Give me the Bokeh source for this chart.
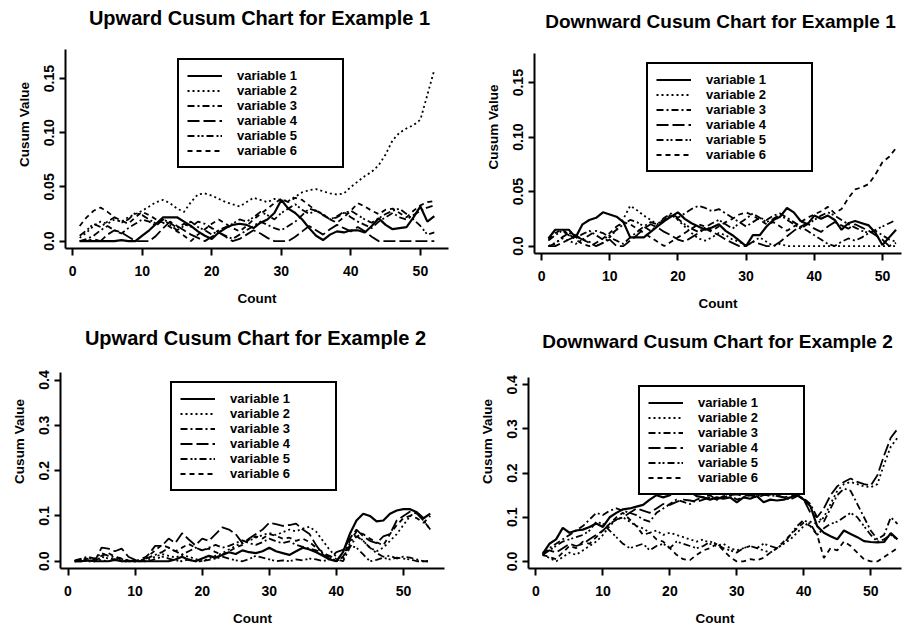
from bokeh.plotting import figure
from bokeh.layouts import column, row
from bokeh.models import Legend, LegendItem, Range1d, FixedTicker, Label
from bokeh.embed import file_html
from bokeh.resources import INLINE

# ---------------- data ----------------
COUNT_EX1 = list(range(1, 53))
COUNT_EX2 = list(range(1, 55))
SERIES_NAMES = ["variable 1", "variable 2", "variable 3", "variable 4", "variable 5", "variable 6"]

X_TICKS = [0, 10, 20, 30, 40, 50]
Y_TICKS_EX1 = [0, 0.05, 0.10, 0.15]
Y_LABELS_EX1 = ["0.0", "0.05", "0.10", "0.15"]
Y_TICKS_EX2 = [0, 0.1, 0.2, 0.3, 0.4]
Y_LABELS_EX2 = ["0.0", "0.1", "0.2", "0.3", "0.4"]

# Upward cusum, example 1
UP1_V1 = [0.0, 0.0, 0.0, 0.0, 0.0, 0.0, 0.001, 0.0, 0.0, 0.005,
          0.01, 0.016, 0.022, 0.022, 0.022, 0.018, 0.014, 0.009, 0.005, 0.002,
          0.008, 0.012, 0.015, 0.016, 0.015, 0.012, 0.017, 0.02, 0.026, 0.038,
          0.03, 0.026, 0.02, 0.012, 0.005, 0.001, 0.006, 0.009, 0.008, 0.01,
          0.01, 0.008, 0.014, 0.021, 0.015, 0.011, 0.012, 0.013, 0.022, 0.032,
          0.018, 0.023]
UP1_V2 = [0.003, 0.008, 0.014, 0.018, 0.016, 0.02, 0.018, 0.022, 0.025, 0.028,
          0.032, 0.036, 0.038, 0.035, 0.03, 0.027, 0.036, 0.043, 0.044, 0.042,
          0.039, 0.036, 0.034, 0.032, 0.036, 0.04, 0.038, 0.036, 0.039, 0.038,
          0.037, 0.041, 0.045, 0.047, 0.048, 0.046, 0.044, 0.043, 0.044, 0.05,
          0.055, 0.06, 0.064, 0.07, 0.08, 0.093, 0.1, 0.104, 0.107, 0.112,
          0.135, 0.158]
UP1_V3 = [0.0, 0.002, 0.005, 0.01, 0.014, 0.01, 0.007, 0.012, 0.016, 0.02,
          0.018, 0.014, 0.02, 0.017, 0.012, 0.016, 0.013, 0.018, 0.016, 0.012,
          0.008, 0.005, 0.002, 0.006, 0.01, 0.014, 0.018, 0.015, 0.012, 0.01,
          0.014, 0.018, 0.024, 0.03, 0.028, 0.025, 0.02, 0.023, 0.027, 0.022,
          0.018, 0.015, 0.012, 0.018, 0.022, 0.026, 0.022, 0.02, 0.024, 0.028,
          0.031, 0.033]
UP1_V4 = [0.0, 0.0, 0.002, 0.0, 0.006, 0.01, 0.008, 0.004, 0.0, 0.0,
          0.0, 0.005, 0.012, 0.018, 0.014, 0.01, 0.006, 0.003, 0.0, 0.004,
          0.008, 0.004, 0.0, 0.002, 0.006, 0.01, 0.007, 0.003, 0.0, 0.0,
          0.0, 0.004, 0.009, 0.014, 0.01, 0.006, 0.011, 0.015, 0.012, 0.009,
          0.013, 0.009, 0.004, 0.0, 0.0, 0.0, 0.0, 0.0, 0.0, 0.0,
          0.0, 0.0]
UP1_V5 = [0.005, 0.01, 0.016, 0.013, 0.018, 0.022, 0.017, 0.02, 0.026, 0.024,
          0.02, 0.016, 0.02, 0.015, 0.01, 0.014, 0.018, 0.013, 0.01, 0.006,
          0.01, 0.013, 0.016, 0.02, 0.018, 0.022, 0.027, 0.024, 0.02, 0.026,
          0.03, 0.034, 0.029, 0.025, 0.029, 0.024, 0.02, 0.022, 0.026, 0.028,
          0.024, 0.02, 0.017, 0.021, 0.025, 0.028, 0.03, 0.025, 0.02, 0.014,
          0.006, 0.008]
UP1_V6 = [0.014, 0.022, 0.028, 0.031, 0.027, 0.022, 0.019, 0.016, 0.022, 0.027,
          0.024, 0.02, 0.017, 0.013, 0.009, 0.005, 0.0, 0.006, 0.011, 0.016,
          0.02, 0.016, 0.012, 0.009, 0.014, 0.02, 0.025, 0.03, 0.035, 0.039,
          0.036, 0.04, 0.038, 0.033, 0.028, 0.024, 0.02, 0.017, 0.022, 0.028,
          0.035, 0.032, 0.028, 0.025, 0.029, 0.03, 0.026, 0.022, 0.028, 0.033,
          0.036, 0.037]

# Downward cusum, example 1
DN1_V1 = [0.007, 0.015, 0.015, 0.015, 0.008, 0.02, 0.024, 0.026, 0.031, 0.029,
          0.027, 0.022, 0.008, 0.008, 0.008, 0.013, 0.018, 0.023, 0.027, 0.031,
          0.025, 0.021, 0.018, 0.015, 0.017, 0.02, 0.014, 0.01, 0.005, 0.0,
          0.01, 0.01, 0.018, 0.024, 0.027, 0.035, 0.031, 0.023, 0.02, 0.028,
          0.025, 0.028, 0.024, 0.015, 0.021, 0.023, 0.021, 0.019, 0.012, 0.001,
          0.008, 0.015]
DN1_V2 = [0.0, 0.003, 0.007, 0.005, 0.002, 0.006, 0.004, 0.0, 0.003, 0.008,
          0.015, 0.025, 0.037, 0.033, 0.028, 0.024, 0.02, 0.025, 0.029, 0.024,
          0.018, 0.012, 0.007, 0.005, 0.008, 0.012, 0.01, 0.006, 0.004, 0.0,
          0.004, 0.008, 0.004, 0.0, 0.002, 0.0, 0.0, 0.0, 0.0, 0.0,
          0.0, 0.0, 0.0, 0.0, 0.0, 0.0, 0.0, 0.0, 0.0, 0.0,
          0.0, 0.0]
DN1_V3 = [0.0, 0.002, 0.008, 0.012, 0.01, 0.006, 0.01, 0.014, 0.012, 0.008,
          0.005, 0.002, 0.008, 0.013, 0.018, 0.022, 0.02, 0.026, 0.03, 0.026,
          0.03, 0.034, 0.037, 0.035, 0.032, 0.034, 0.03, 0.026, 0.022, 0.018,
          0.022, 0.026, 0.024, 0.028, 0.03, 0.026, 0.022, 0.018, 0.014, 0.01,
          0.006, 0.002, 0.0, 0.004, 0.007, 0.005, 0.008, 0.012, 0.014, 0.01,
          0.006, 0.004]
DN1_V4 = [0.0, 0.0, 0.003, 0.006, 0.009, 0.006, 0.003, 0.0, 0.003, 0.006,
          0.0, 0.0, 0.005, 0.01, 0.016, 0.02, 0.017, 0.013, 0.01, 0.006,
          0.004, 0.008, 0.012, 0.016, 0.013, 0.01, 0.006, 0.003, 0.0, 0.0,
          0.004, 0.002, 0.0, 0.0, 0.004, 0.009, 0.014, 0.018, 0.021, 0.016,
          0.013, 0.018, 0.022, 0.019, 0.016, 0.02, 0.017, 0.014, 0.01, 0.006,
          0.0, 0.003]
DN1_V5 = [0.005, 0.01, 0.014, 0.01, 0.007, 0.011, 0.014, 0.01, 0.006, 0.01,
          0.015, 0.02, 0.024, 0.022, 0.018, 0.014, 0.019, 0.024, 0.028, 0.025,
          0.02, 0.016, 0.013, 0.017, 0.021, 0.024, 0.02, 0.016, 0.021, 0.025,
          0.03, 0.026, 0.022, 0.025, 0.029, 0.024, 0.02, 0.016, 0.02, 0.024,
          0.028, 0.031, 0.028, 0.024, 0.02, 0.017, 0.014, 0.012, 0.015, 0.018,
          0.021, 0.024]
DN1_V6 = [0.006, 0.012, 0.015, 0.011, 0.006, 0.002, 0.0, 0.003, 0.007, 0.012,
          0.018, 0.022, 0.02, 0.016, 0.012, 0.008, 0.004, 0.0, 0.004, 0.008,
          0.012, 0.016, 0.02, 0.018, 0.014, 0.018, 0.022, 0.025, 0.029, 0.031,
          0.028, 0.024, 0.02, 0.022, 0.018, 0.014, 0.018, 0.022, 0.026, 0.029,
          0.032, 0.036, 0.03, 0.034, 0.044, 0.052, 0.054, 0.057, 0.066, 0.077,
          0.082, 0.09]

# Upward cusum, example 2
UP2_V1 = [0.0, 0.0, 0.002, 0.0, 0.0, 0.0, 0.003, 0.0, 0.0, 0.0,
          0.0, 0.0, 0.0, 0.0, 0.0, 0.004, 0.01, 0.003, 0.0, 0.006,
          0.012, 0.008, 0.014, 0.02, 0.016, 0.024, 0.02, 0.018, 0.022, 0.03,
          0.022, 0.018, 0.014, 0.022, 0.03, 0.026, 0.02, 0.012, 0.004, 0.0,
          0.02, 0.06, 0.09, 0.105, 0.1, 0.088, 0.09, 0.105, 0.112, 0.115,
          0.115, 0.108, 0.095, 0.105]
UP2_V2 = [0.0, 0.004, 0.008, 0.005, 0.002, 0.0, 0.004, 0.002, 0.0, 0.0,
          0.0, 0.004, 0.01, 0.016, 0.012, 0.008, 0.014, 0.01, 0.005, 0.0,
          0.006, 0.012, 0.018, 0.026, 0.034, 0.04, 0.046, 0.052, 0.058, 0.062,
          0.058, 0.064, 0.07, 0.066, 0.072, 0.076, 0.065, 0.045, 0.025, 0.01,
          0.005, 0.04, 0.06, 0.045, 0.03, 0.022, 0.03, 0.045, 0.06, 0.08,
          0.1, 0.11, 0.09, 0.07]
UP2_V3 = [0.002, 0.006, 0.01, 0.006, 0.018, 0.012, 0.008, 0.005, 0.002, 0.0,
          0.003, 0.008, 0.014, 0.02, 0.03, 0.022, 0.015, 0.022, 0.03, 0.024,
          0.03, 0.036, 0.03, 0.034, 0.04, 0.046, 0.04, 0.036, 0.042, 0.05,
          0.044, 0.04, 0.044, 0.036, 0.032, 0.028, 0.024, 0.018, 0.012, 0.005,
          0.0, 0.03, 0.055, 0.045, 0.03, 0.018, 0.01, 0.012, 0.006, 0.01,
          0.008, 0.004, 0.0, 0.0]
UP2_V4 = [0.0, 0.0, 0.003, 0.0, 0.03, 0.028, 0.022, 0.028, 0.01, 0.003,
          0.0, 0.015, 0.034, 0.034, 0.05, 0.04, 0.062, 0.048, 0.035, 0.05,
          0.045, 0.06, 0.075, 0.07, 0.06, 0.04, 0.05, 0.06, 0.07, 0.085,
          0.082, 0.078, 0.08, 0.083, 0.07, 0.06, 0.035, 0.015, 0.005, 0.02,
          0.025, 0.05, 0.07, 0.055, 0.045, 0.04, 0.055, 0.06, 0.09, 0.1,
          0.11, 0.105, 0.09, 0.07]
UP2_V5 = [0.0, 0.002, 0.0, 0.0, 0.01, 0.006, 0.004, 0.0, 0.0, 0.002,
          0.0, 0.0, 0.005, 0.01, 0.006, 0.002, 0.0, 0.004, 0.0, 0.0,
          0.003, 0.006, 0.01, 0.006, 0.002, 0.0, 0.005, 0.012, 0.008, 0.004,
          0.0, 0.002, 0.0, 0.004, 0.002, 0.006, 0.004, 0.0, 0.005, 0.0,
          0.01, 0.035, 0.03, 0.015, 0.0, 0.003, 0.008, 0.004, 0.008, 0.006,
          0.004, 0.0, 0.0, 0.0]
UP2_V6 = [0.0, 0.003, 0.006, 0.003, 0.012, 0.018, 0.01, 0.006, 0.002, 0.0,
          0.006, 0.012, 0.024, 0.036, 0.03, 0.022, 0.03, 0.038, 0.03, 0.024,
          0.028, 0.02, 0.015, 0.022, 0.03, 0.036, 0.048, 0.055, 0.05, 0.06,
          0.056, 0.05, 0.052, 0.045, 0.05, 0.042, 0.03, 0.02, 0.008, 0.0,
          0.01, 0.045, 0.065, 0.06, 0.05, 0.042, 0.035, 0.06, 0.08, 0.095,
          0.1, 0.095, 0.085, 0.1]

# Downward cusum, example 2
DN2_V1 = [0.017, 0.04, 0.05, 0.076, 0.065, 0.07, 0.072, 0.078, 0.086, 0.078,
          0.1, 0.11, 0.118, 0.12, 0.124, 0.128, 0.14, 0.15, 0.145, 0.15,
          0.165, 0.155, 0.158, 0.148, 0.145, 0.14, 0.145, 0.142, 0.145, 0.134,
          0.145, 0.142, 0.148, 0.134, 0.14, 0.138, 0.14, 0.145, 0.151, 0.14,
          0.125, 0.08, 0.065, 0.057, 0.05, 0.07, 0.062, 0.055, 0.046, 0.044,
          0.043, 0.044, 0.064, 0.05]
DN2_V2 = [0.015, 0.008, 0.0, 0.01, 0.02, 0.015, 0.025, 0.035, 0.045, 0.06,
          0.08, 0.095, 0.1, 0.09, 0.08, 0.075, 0.065, 0.07, 0.06, 0.065,
          0.06, 0.055, 0.05, 0.045, 0.05, 0.04, 0.035, 0.04, 0.03, 0.025,
          0.03, 0.035, 0.03, 0.025, 0.02, 0.03, 0.04, 0.05, 0.065, 0.08,
          0.09, 0.085, 0.1, 0.13, 0.16, 0.175, 0.18, 0.175, 0.17, 0.168,
          0.175, 0.22, 0.26, 0.28]
DN2_V3 = [0.015, 0.03, 0.04, 0.05, 0.06, 0.07, 0.08, 0.095, 0.11, 0.105,
          0.115, 0.12, 0.115, 0.11, 0.105, 0.095, 0.09, 0.11, 0.12, 0.13,
          0.14, 0.135, 0.13, 0.14, 0.145, 0.15, 0.14, 0.145, 0.15, 0.14,
          0.145, 0.15, 0.148, 0.152, 0.148, 0.15, 0.145, 0.14, 0.148, 0.143,
          0.13, 0.1, 0.09, 0.12, 0.15, 0.165, 0.16, 0.13, 0.1, 0.07,
          0.05, 0.06, 0.1, 0.085]
DN2_V4 = [0.02, 0.025, 0.02, 0.03, 0.04, 0.035, 0.04, 0.05, 0.06, 0.07,
          0.085, 0.095, 0.1, 0.11, 0.12, 0.115, 0.11, 0.12, 0.13, 0.128,
          0.135, 0.14, 0.138, 0.135, 0.14, 0.145, 0.14, 0.148, 0.15, 0.152,
          0.148, 0.15, 0.145, 0.15, 0.152, 0.148, 0.145, 0.148, 0.15, 0.14,
          0.11, 0.1, 0.12, 0.15, 0.17, 0.18, 0.188, 0.18, 0.175, 0.172,
          0.195, 0.24, 0.28, 0.3]
DN2_V5 = [0.015, 0.025, 0.035, 0.045, 0.05, 0.055, 0.06, 0.07, 0.09, 0.085,
          0.07, 0.055, 0.04, 0.03, 0.035, 0.04, 0.025, 0.035, 0.04, 0.03,
          0.045, 0.04, 0.035, 0.03, 0.035, 0.045, 0.04, 0.03, 0.025, 0.02,
          0.03, 0.035, 0.03, 0.04, 0.035, 0.03, 0.04, 0.06, 0.08, 0.094,
          0.085, 0.06, 0.075, 0.085, 0.09, 0.1, 0.11, 0.1, 0.08, 0.06,
          0.045, 0.05, 0.06, 0.05]
DN2_V6 = [0.015, 0.01, 0.005, 0.02, 0.035, 0.03, 0.045, 0.04, 0.055, 0.07,
          0.085, 0.1, 0.11, 0.095, 0.08, 0.06, 0.065, 0.05, 0.045, 0.03,
          0.015, 0.005, 0.003, 0.015, 0.025, 0.03, 0.04, 0.025, 0.01, 0.0,
          0.0, 0.005, 0.003, 0.008, 0.02, 0.03, 0.045, 0.06, 0.075, 0.088,
          0.08, 0.06, 0.008, 0.03, 0.025, 0.045, 0.035, 0.02, 0.005, 0.0,
          0.0, 0.01, 0.02, 0.03]

# ---------------- styling ----------------
FONT = "Liberation Sans"
DASHES = ["solid", "2 3", "7 3 2 3", "12 4", "7 3 2 2 2 3", "5 4"]
WIDTHS = [2.2, 1.8, 1.8, 1.8, 1.8, 1.8]


def make_panel(title, counts, series, x_start, x_end, y_start, y_end,
               yticks, ylabels, width, height, left, right, bottom, axis_top,
               title_pos, title_size, legend_loc, x_std=(10, 12)):
    # the frame reaches the top of the figure; the axis line stops at axis_top
    frame_h = height - bottom
    ppu = (frame_h - axis_top) / (y_end - y_start)
    y_top = y_end + axis_top / ppu

    p = figure(width=width, height=height, output_backend="svg", toolbar_location=None,
               x_range=Range1d(x_start, x_end), y_range=Range1d(y_start, y_top),
               min_border_left=left, min_border_right=right,
               min_border_top=0, min_border_bottom=bottom)
    p.frame_align = False
    p.title.visible = False
    p.outline_line_color = None
    p.grid.visible = False
    p.background_fill_color = "white"
    p.border_fill_color = "white"

    p.add_layout(Label(x=title_pos[0], y=title_pos[1], x_units="screen", y_units="screen",
                       text=title, text_align="center", text_baseline="middle",
                       text_font=FONT, text_font_size=title_size, text_font_style="bold",
                       text_color="black"))

    items = []
    for name, ys, dash, lw in zip(SERIES_NAMES, series, DASHES, WIDTHS):
        r = p.line(counts, ys, line_color="black", line_width=lw, line_dash=dash)
        items.append(LegendItem(label=name, renderers=[r]))

    for ax in (p.xaxis[0], p.yaxis[0]):
        ax.axis_line_width = 2
        ax.axis_line_color = "black"
        ax.major_tick_line_width = 2
        ax.major_tick_line_color = "black"
        ax.major_tick_in = 0
        ax.minor_tick_line_color = None
        ax.major_label_text_font = FONT
        ax.major_label_text_font_size = "14px"
        ax.major_label_text_font_style = "bold"
        ax.major_label_text_color = "black"
        ax.axis_label_text_font = FONT
        ax.axis_label_text_font_size = "13.5px"
        ax.axis_label_text_font_style = "bold"
        ax.axis_label_text_color = "black"

    xa = p.xaxis[0]
    xa.ticker = FixedTicker(ticks=X_TICKS)
    xa.major_tick_out = 7
    xa.major_label_standoff = x_std[0]
    xa.axis_label = "Count"
    xa.axis_label_standoff = x_std[1]

    ya = p.yaxis[0]
    ya.ticker = FixedTicker(ticks=yticks)
    ya.bounds = (y_start, y_end)
    ya.major_label_overrides = {t: s for t, s in zip(yticks, ylabels)}
    ya.major_label_orientation = "vertical"
    ya.major_tick_out = 6
    ya.major_label_standoff = 5
    ya.axis_label = "Cusum Value"
    ya.axis_label_standoff = 10

    legend = Legend(items=items, location=legend_loc,
                    border_line_color="black", border_line_width=2, border_line_alpha=1,
                    background_fill_color="white", background_fill_alpha=1,
                    padding=8, spacing=0, margin=0,
                    glyph_width=35, glyph_height=13,
                    label_height=13, label_width=97, label_standoff=15,
                    label_text_font=FONT, label_text_font_size="13px",
                    label_text_font_style="bold", label_text_color="black")
    p.add_layout(legend)
    return p


p1 = make_panel("Upward Cusum Chart for Example 1", COUNT_EX1,
                [UP1_V1, UP1_V2, UP1_V3, UP1_V4, UP1_V5, UP1_V6],
                -1.04, 54.04, -0.0068, 0.1768, Y_TICKS_EX1, Y_LABELS_EX1,
                455, 314, 65, 7, 66, 49, (194, 231), "20px", (112, 80))
p2 = make_panel("Downward Cusum Chart for Example 1", COUNT_EX1,
                [DN1_V1, DN1_V2, DN1_V3, DN1_V4, DN1_V5, DN1_V6],
                -1.04, 52.8, -0.0068, 0.1768, Y_TICKS_EX1, Y_LABELS_EX1,
                448, 314, 79, 2, 61, 53, (186, 232), "19px", (112, 81))
p3 = make_panel("Upward Cusum Chart for Example 2", COUNT_EX2,
                [UP2_V1, UP2_V2, UP2_V3, UP2_V4, UP2_V5, UP2_V6],
                -1.12, 56.12, -0.016, 0.416, Y_TICKS_EX2, Y_LABELS_EX2,
                455, 314, 60, 11, 57, 59, (195, 231), "20px", (110, 77))
p4 = make_panel("Downward Cusum Chart for Example 2", COUNT_EX2,
                [DN2_V1, DN2_V2, DN2_V3, DN2_V4, DN2_V5, DN2_V6],
                -1.12, 54.6, -0.016, 0.416, Y_TICKS_EX2, Y_LABELS_EX2,
                448, 314, 73, 2, 57, 64, (189, 227), "19px", (110, 73))

layout = column(row(p1, p2), row(p3, p4))

with open("out.html", "w") as f:
    f.write(file_html(layout, INLINE))
